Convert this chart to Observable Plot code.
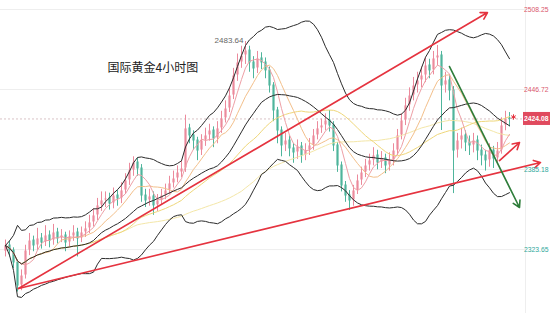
<!DOCTYPE html>
<html><head><meta charset="utf-8">
<script src="https://cdn.jsdelivr.net/npm/d3@7"></script>
<script src="https://cdn.jsdelivr.net/npm/@observablehq/plot@0.6"></script>
<style>html,body{margin:0;padding:0;background:#fff;overflow:hidden}svg{display:block}</style>
</head><body><div id="chart"></div>
<script>
// ---- data ----
const title = "国际黄金4小时图";
const open = [2322.0,2326.8,2322.9,2313.7,2296.0,2303.7,2322.9,2330.6,2326.8,2332.2,
2329.1,2334.5,2330.6,2336.8,2332.2,2334.5,2329.1,2333.7,2336.8,2332.2,
2336.8,2339.9,2344.5,2349.9,2357.6,2361.4,2362.9,2359.1,2365.2,2362.9,
2369.1,2376.8,2384.5,2390.6,2386.0,2365.2,2361.4,2364.5,2357.6,2361.4,
2365.2,2369.1,2374.5,2378.3,2382.9,2386.0,2416.8,2411.4,2407.5,2399.8,
2407.5,2411.4,2415.2,2409.1,2416.8,2424.5,2432.1,2442.1,2457.5,2467.5,
2472.9,2476.7,2467.5,2462.9,2470.6,2467.5,2461.4,2449.8,2430.6,2415.2,
2403.7,2407.5,2401.4,2398.3,2402.9,2396.0,2399.8,2403.7,2411.4,2416.8,
2419.1,2422.9,2419.1,2403.7,2388.3,2372.9,2365.2,2361.4,2369.1,2376.8,
2382.9,2388.3,2392.2,2396.0,2390.6,2393.7,2388.3,2392.2,2399.8,2411.4,
2422.9,2434.5,2442.1,2449.8,2453.7,2457.5,2465.2,2461.4,2470.6,2472.9,
2449.8,2453.7,2446.0,2399.8,2407.5,2411.4,2406.0,2403.7,2407.5,2399.8,
2396.0,2392.2,2399.8,2393.7,2399.8,2419.1,2424.5];
const close = [2326.8,2322.9,2313.7,2296.0,2303.7,2322.9,2330.6,2326.8,2332.2,2329.1,
2334.5,2330.6,2336.8,2332.2,2334.5,2329.1,2333.7,2336.8,2332.2,2336.8,
2339.9,2344.5,2349.9,2357.6,2361.4,2362.9,2359.1,2365.2,2362.9,2369.1,
2376.8,2384.5,2390.6,2386.0,2365.2,2361.4,2364.5,2357.6,2361.4,2365.2,
2369.1,2374.5,2378.3,2382.9,2386.0,2416.8,2411.4,2407.5,2399.8,2407.5,
2411.4,2415.2,2409.1,2416.8,2424.5,2432.1,2442.1,2457.5,2467.5,2472.9,
2476.7,2467.5,2462.9,2470.6,2467.5,2461.4,2449.8,2430.6,2415.2,2403.7,
2407.5,2401.4,2398.3,2402.9,2396.0,2399.8,2403.7,2411.4,2416.8,2419.1,
2422.9,2419.1,2403.7,2388.3,2372.9,2365.2,2361.4,2369.1,2376.8,2382.9,
2388.3,2392.2,2396.0,2390.6,2393.7,2388.3,2392.2,2399.8,2411.4,2422.9,
2434.5,2442.1,2449.8,2453.7,2457.5,2465.2,2461.4,2470.6,2472.9,2449.8,
2453.7,2446.0,2399.8,2407.5,2411.4,2406.0,2403.7,2407.5,2399.8,2396.0,
2392.2,2399.8,2393.7,2399.8,2419.1,2424.5,2424.08];
const high = [2331,2330,2325,2316,2308,2327,2336,2334,2340,2336,
2342,2338,2343,2340,2339,2337,2338,2342,2340,2341,
2345,2350,2355,2363,2368,2368,2367,2371,2369,2375,
2382,2390,2395,2394,2389,2370,2370,2368,2366,2370,
2374,2380,2384,2388,2392,2427,2420,2415,2410,2412,
2417,2420,2418,2422,2430,2438,2448,2463,2474,2480,
2483.64,2480,2472,2476,2475,2471,2464,2452,2433,2418,
2413,2411,2405,2408,2406,2405,2409,2416,2422,2424,
2428,2430.6,2422,2406,2391,2376,2369,2373,2381,2387,
2393,2397,2402,2400,2399,2397,2398,2405,2416,2428,
2440,2448,2456,2460,2464,2471,2470,2476,2480.6,2476,
2460,2458,2449,2413,2417,2415,2411,2413,2411,2404,
2400,2405,2403,2406,2425,2430,2429];
const low = [2318,2318,2309,2291,2292,2301,2319,2322,2323,2324,
2326,2325,2327,2328,2329,2322,2325,2330,2318,2329,
2333,2336,2341,2346,2353,2356,2354,2355,2357,2359,
2366,2373,2380,2380,2360,2356,2357,2350,2353,2358,
2362,2366,2371,2375,2379,2383,2405,2400,2392,2396,
2403,2407,2402,2405,2413,2421,2429,2439,2453,2463,
2466,2460,2455,2459,2462,2455,2444,2422,2405,2395,
2399,2395,2390,2393,2390,2392,2396,2400,2408,2413,
2415,2414,2399,2383,2368,2360,2353.7,2357,2366,2373,
2379,2384,2388,2385,2386,2382,2384,2388,2396,2408,
2419,2430,2438,2444,2448,2452,2455,2458,2465,2415.2,
2444,2438,2366.7,2394,2401,2399,2396,2398,2392,2388,
2384,2387,2386,2390,2397,2415,2418];
const ticksAbove = [2508.25, 2446.72];
const ticksBelow = [2385.18, 2323.65];
const lastPrice = 2424.08;
// trend lines in data units (candle index, price): 3 red, 1 green
const trendX1 = [3.25, 3.25, 123.5, 111];
const trendY1 = [2293.7, 2293.7, 2392.1, 2464.4];
const trendX2 = [120.5, 133.75, 128.5, 128.5];
const trendY2 = [2505.9, 2390.6, 2406.0, 2356.0];

// ---- build ----
const candles = close.map((c, i) => ({i, open: open[i], close: c, high: high[i], low: low[i]}));
const trends = trendX1.map((x1, k) => ({x1, y1: trendY1[k], x2: trendX2[k], y2: trendY2[k], green: k === 3}));
const UP = "#ec8a9c", DOWN = "#4fb59c";
const ma = (k, stroke, w = 1) => Plot.lineY(candles, Plot.windowY({k, anchor: "end", reduce: "mean"}, {x: "i", y: "close", stroke, strokeWidth: w}));
const band = (f) => Plot.lineY(candles, Plot.windowY({k: 20, anchor: "end", reduce: f}, {x: "i", y: "close", stroke: "#2b2b2b", strokeWidth: 1}));
const peakI = d3.maxIndex(high);

const plot = Plot.plot({
  width: 550, height: 313,
  marginLeft: 0, marginRight: 25, marginTop: 0, marginBottom: 0,
  x: {type: "linear", domain: [-1.25, 130], axis: null},
  y: {domain: [2274.5, 2515.17], axis: null},
  style: {fontFamily: "Liberation Sans, Arial, sans-serif", fontSize: "8px", background: "#fff"},
  marks: [
    Plot.gridY([...ticksAbove, ...ticksBelow], {stroke: "#eeeeee", strokeOpacity: 1}),
    Plot.ruleX([130], {stroke: "#eeeeee"}),
    Plot.ruleY([lastPrice], {stroke: "#d9c3c6", strokeDasharray: "2,2"}),
    Plot.ruleX(candles, {x: "i", y1: "low", y2: "high", stroke: d => d.close >= d.open ? UP : DOWN, strokeWidth: 1}),
    Plot.ruleX(candles, {x: "i", y1: "open", y2: "close", stroke: d => d.close >= d.open ? UP : DOWN, strokeWidth: 2.2, insetTop: -0.5, insetBottom: -0.5}),
    ma(60, "#f4e7a8"),
    ma(30, "#efd77a"),
    ma(10, "#f3bf8a"),
    ma(5, "#eea0a6"),
    band(v => d3.mean(v) + 2 * (d3.deviation(v) ?? 0)),
    band("mean"),
    band(v => d3.mean(v) - 2 * (d3.deviation(v) ?? 0)),
    Plot.arrow(trends, {x1: "x1", y1: "y1", x2: "x2", y2: "y2", stroke: d => d.green ? "#2e7d3a" : "#e5333f", strokeWidth: 1.6, headLength: 7}),
    Plot.text([title], {frameAnchor: "top-left", dx: 107, dy: 63, lineAnchor: "top", textAnchor: "start", fontSize: 12, fill: "#222", fontFamily: "Noto Sans CJK SC"}),
    Plot.text([peakI], {x: d => d, y: d => high[d], text: d => high[d].toFixed(2), textAnchor: "end", lineAnchor: "bottom", dx: -2, dy: 1, fill: "#666", fontSize: 8}),
    Plot.dot([close.length - 1], {x: d => d, y: () => lastPrice, dx: 4, dy: -2, symbol: "asterisk", r: 2.5, stroke: "#e5333f", strokeWidth: 1}),
    Plot.axisY(ticksAbove, {anchor: "right", tickSize: 0, tickPadding: -1.5, fill: "#d9566c", tickFormat: d => d.toFixed(2), label: null, fontSize: 6.8}),
    Plot.axisY(ticksBelow, {anchor: "right", tickSize: 0, tickPadding: -1.5, fill: "#2fa89b", tickFormat: d => d.toFixed(2), label: null, fontSize: 6.8})
  ]
});

// current price badge placed with the plot's own scales
const xs = plot.scale("x"), ys = plot.scale("y");
const px = xs.apply(130) - 2, py = ys.apply(lastPrice);
const g = d3.select(plot).append("g").attr("text-anchor", "start");
g.append("rect").attr("x", px).attr("y", py - 6.5).attr("width", 40).attr("height", 13).attr("fill", "#e04a5e");
g.append("text").attr("x", px + 1).attr("y", py).attr("dy", "0.35em").attr("fill", "#fff")
  .attr("font-size", 6.8).attr("font-weight", "bold").text(lastPrice.toFixed(2));

document.getElementById("chart").appendChild(plot);
</script></body></html>
